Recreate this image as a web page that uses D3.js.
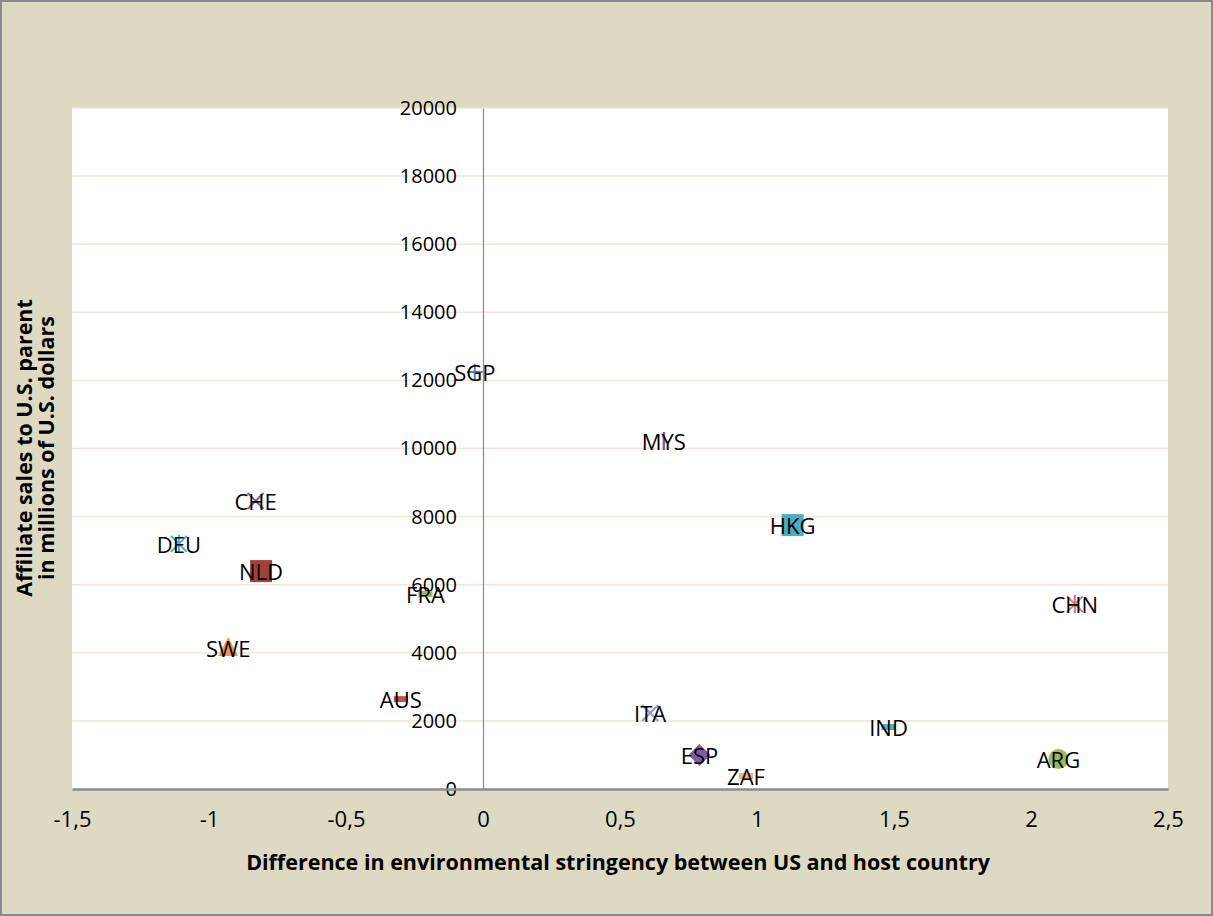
<!DOCTYPE html>
<html>
<head>
<meta charset="utf-8">
<script src="https://cdn.jsdelivr.net/npm/d3@7"></script>
<style>
  html, body { margin: 0; padding: 0; background: #ffffff; }
  svg { display: block; }
  text { font-family: "Open Sans", "Noto Sans", sans-serif; }
</style>
</head>
<body>
<svg id="chart" width="1213" height="916"></svg>
<script>
// Country codes and their values
const countries = ["SGP", "MYS", "CHE", "DEU", "NLD", "FRA", "SWE", "AUS", "HKG", "CHN", "ITA", "ESP", "ZAF", "IND", "ARG"];
const stringencyDiff = [-0.03, 0.66, -0.83, -1.11, -0.81, -0.21, -0.93, -0.30, 1.13, 2.16, 0.61, 0.79, 0.96, 1.48, 2.10];
const affiliateSales = [12250, 10220, 8460, 7200, 6400, 5730, 4140, 2640, 7750, 5430, 2230, 1000, 380, 1820, 880];

const xTicks = [-1.5, -1, -0.5, 0, 0.5, 1, 1.5, 2, 2.5];
const yTicks = [0, 2000, 4000, 6000, 8000, 10000, 12000, 14000, 16000, 18000, 20000];

// Marker style per series (shape, colour)
const markerStyle = {
  SGP: { shape: "plus",    color: "#4f81bd" },
  MYS: { shape: "vbar",    color: "#8064a2" },
  CHE: { shape: "cross",   color: "#7f64a2" },
  DEU: { shape: "star",    color: "#4bacc6" },
  NLD: { shape: "square",  color: "#a3403d" },
  FRA: { shape: "dash",    color: "#9bbb59" },
  SWE: { shape: "triangle",color: "#f79646" },
  AUS: { shape: "dash",    color: "#c0504d" },
  HKG: { shape: "square",  color: "#4bacc6" },
  CHN: { shape: "star",    color: "#d9797a" },
  ITA: { shape: "cross",   color: "#7f9fd3" },
  ESP: { shape: "diamond", color: "#7b5ea0" },
  ZAF: { shape: "dash",    color: "#f9ac78" },
  IND: { shape: "dash",    color: "#4bacc6" },
  ARG: { shape: "circle",  color: "#9bbb59" }
};

const W = 1213, H = 916;
const plot = { left: 72, right: 1168, top: 108, bottom: 789 };

const svg = d3.select("#chart");

// chart area background and border
svg.append("rect").attr("x", 1).attr("y", 1).attr("width", W - 2).attr("height", H - 2)
  .attr("fill", "#ddd9c3").attr("stroke", "#8a8a8a").attr("stroke-width", 2);

// plot area
svg.append("rect").attr("x", plot.left).attr("y", plot.top)
  .attr("width", plot.right - plot.left).attr("height", plot.bottom - plot.top)
  .attr("fill", "#ffffff");

const x = d3.scaleLinear().domain([-1.5, 2.5]).range([plot.left, plot.right]);
const y = d3.scaleLinear().domain([0, 20000]).range([plot.bottom, plot.top]);

// horizontal gridlines
svg.append("g").selectAll("line").data(yTicks.filter(d => d > 0)).join("line")
  .attr("x1", plot.left).attr("x2", plot.right)
  .attr("y1", d => y(d)).attr("y2", d => y(d))
  .attr("stroke", "#efe7d3").attr("stroke-width", 1.5);

// vertical axis at x = 0
const yAxis = d3.axisLeft(y).tickValues(yTicks).tickSize(0).tickPadding(26).tickFormat(d3.format("d"));
const gy = svg.append("g").attr("transform", `translate(${x(0)},0)`).call(yAxis);
gy.select(".domain").attr("stroke", "#8c8c8c").attr("stroke-width", 1.2);
gy.selectAll("text").attr("font-size", 20).attr("fill", "#000");

// horizontal axis along the bottom
const xFmt = d => String(d).replace(".", ",");
const xAxis = d3.axisBottom(x).tickValues(xTicks).tickSize(0).tickPadding(22).tickFormat(xFmt);
const gx = svg.append("g").attr("transform", `translate(0,${plot.bottom})`).call(xAxis);
gx.select(".domain").attr("stroke", "#8c8c8c").attr("stroke-width", 2.5);
gx.selectAll("text").attr("font-size", 22).attr("fill", "#000");

// axis titles
svg.append("text").attr("x", 618).attr("y", 870).attr("text-anchor", "middle")
  .attr("font-size", 21.5).attr("font-weight", "bold")
  .text("Difference in environmental stringency between US and host country");

const yTitle = svg.append("text").attr("transform", "translate(0,448) rotate(-90)")
  .attr("text-anchor", "middle").attr("font-size", 21.5).attr("font-weight", "bold");
yTitle.append("tspan").attr("x", 0).attr("y", 32).text("Affiliate sales to U.S. parent");
yTitle.append("tspan").attr("x", 0).attr("y", 54).text("in millions of U.S. dollars");

// markers
const points = countries.map((c, i) => ({ c, xv: stringencyDiff[i], yv: affiliateSales[i] }));
const mg = svg.append("g");

points.forEach(p => {
  const cx = x(p.xv), cy = y(p.yv);
  const st = markerStyle[p.c];
  const g = mg.append("g").attr("transform", `translate(${cx},${cy})`);
  const col = st.color;
  switch (st.shape) {
    case "square":
      g.append("rect").attr("x", -11).attr("y", -11).attr("width", 22).attr("height", 22).attr("fill", col);
      break;
    case "circle":
      g.append("circle").attr("r", 10).attr("fill", col);
      break;
    case "diamond":
      g.append("path").attr("d", "M0,-11L11,0L0,11L-11,0Z").attr("fill", col);
      break;
    case "triangle":
      g.append("path").attr("d", "M0,-11L10,8L-10,8Z").attr("fill", col);
      break;
    case "dash":
      g.append("rect").attr("x", -7).attr("y", -3).attr("width", 14).attr("height", 6).attr("fill", col);
      break;
    case "plus":
      g.append("path").attr("d", "M-8,0H8M0,-8V8").attr("stroke", col).attr("stroke-width", 2);
      break;
    case "vbar":
      g.append("path").attr("d", "M0,-9V9").attr("stroke", col).attr("stroke-width", 2.5);
      break;
    case "cross":
      g.append("path").attr("d", "M-8,-8L8,8M-8,8L8,-8").attr("stroke", col).attr("stroke-width", 2);
      break;
    case "star":
      g.append("path").attr("d", "M-8,-8L8,8M-8,8L8,-8M0,-9V9").attr("stroke", col).attr("stroke-width", 2);
      break;
  }
});

// data labels centred on each marker
svg.append("g").selectAll("text").data(points).join("text")
  .attr("x", d => x(d.xv)).attr("y", d => y(d.yv))
  .attr("text-anchor", "middle").attr("dominant-baseline", "central")
  .attr("font-size", 22).attr("fill", "#000")
  .text(d => d.c);
</script>
</body>
</html>
